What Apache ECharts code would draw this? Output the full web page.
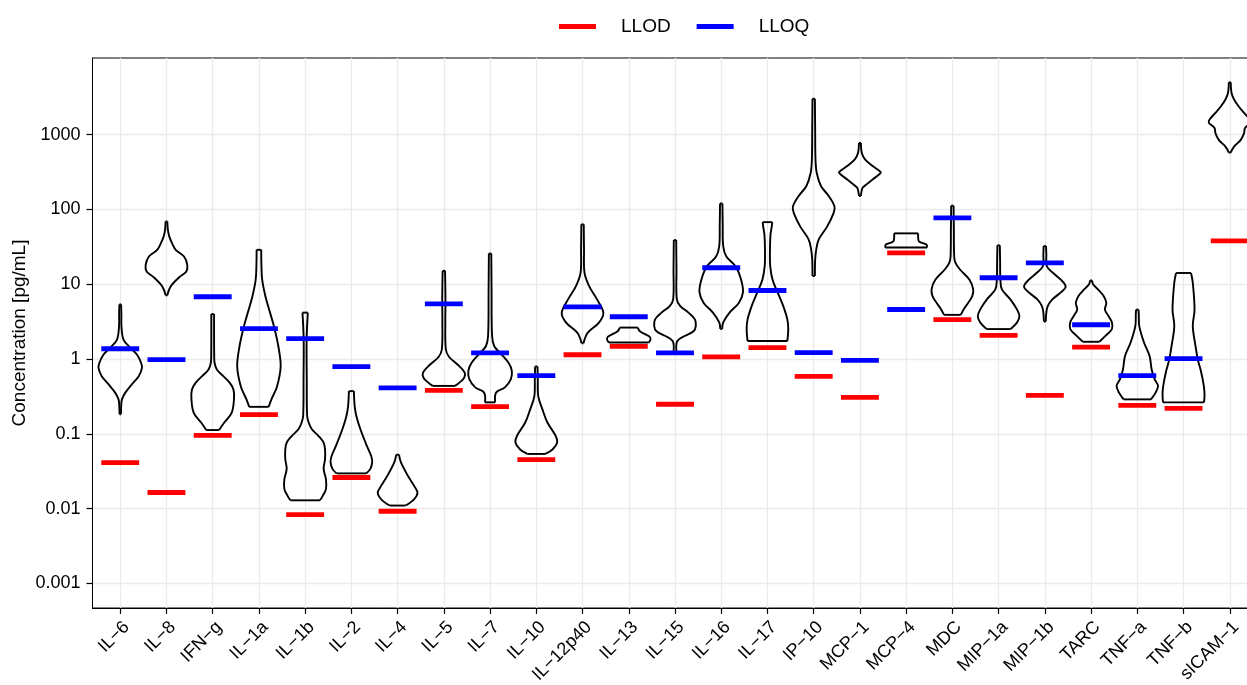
<!DOCTYPE html>
<html><head><meta charset="utf-8">
<script src="https://cdn.jsdelivr.net/npm/echarts@6/dist/echarts.min.js"></script>
<style>html,body{margin:0;padding:0;background:#fff}#c{width:1247px;height:685px}</style>
</head><body><div id="c"></div>
<script>
// Categories (analytes)
const categories = ['IL−6','IL−8','IFN−g','IL−1a','IL−1b','IL−2','IL−4','IL−5','IL−7','IL−10','IL−12p40','IL−13','IL−15','IL−16','IL−17','IP−10','MCP−1','MCP−4','MDC','MIP−1a','MIP−1b','TARC','TNF−a','TNF−b','sICAM−1'];
// Lower limits (pg/mL)
const llod = [0.041,0.0164,0.095,0.18,0.0083,0.026,0.0092,0.38,0.23,0.045,1.14,1.47,0.248,1.07,1.42,0.586,0.307,26.3,3.35,2.07,0.327,1.44,0.24,0.219,38];
const lloq = [1.37,0.98,6.8,2.54,1.87,0.79,0.41,5.47,1.21,0.60,4.99,3.67,1.21,16.6,8.24,1.22,0.96,4.59,76.9,12.2,19.3,2.87,0.598,1.01,null];
// Y-axis ticks
const yTickValues = [0.001,0.01,0.1,1,10,100,1000];
const yTickLabels = ['0.001','0.01','0.1','1','10','100','1000'];
// Violin profiles: [log10 concentration, half-width in category units], bottom to top
const vIL6 = [[-0.74,0.015],[-0.61,0.022],[-0.54,0.037],[-0.45,0.11],[-0.34,0.25],[-0.23,0.40],[-0.12,0.47],[-0.05,0.45],[0.06,0.36],[0.15,0.22],[0.26,0.07],[0.44,0.026],[0.60,0.024],[0.73,0.018]];
const vIL8 = [[0.85,0.015],[0.97,0.09],[1.09,0.27],[1.17,0.43],[1.26,0.45],[1.37,0.38],[1.46,0.20],[1.55,0.12],[1.64,0.06],[1.73,0.03],[1.84,0.018]];
const vIFNg = [[-0.95,0.14],[-0.85,0.25],[-0.72,0.41],[-0.54,0.46],[-0.41,0.45],[-0.32,0.37],[-0.23,0.23],[-0.14,0.09],[-0.05,0.04],[0.08,0.032],[0.30,0.03],[0.60,0.03]];
const vIL1a = [[-0.64,0.21],[-0.54,0.27],[-0.37,0.39],[-0.10,0.47],[0.17,0.42],[0.40,0.34],[0.60,0.25],[0.84,0.14],[1.06,0.07],[1.26,0.054],[1.46,0.05]];
const vIL1b = [[-1.89,0.32],[-1.83,0.38],[-1.74,0.45],[-1.61,0.45],[-1.47,0.40],[-1.34,0.43],[-1.21,0.43],[-1.12,0.40],[-1.03,0.29],[-0.94,0.145],[-0.85,0.076],[-0.76,0.043],[-0.27,0.035],[0.26,0.032],[0.62,0.058]];
const vIL2 = [[-1.53,0.32],[-1.47,0.41],[-1.38,0.45],[-1.30,0.43],[-1.17,0.34],[-0.94,0.195],[-0.77,0.11],[-0.63,0.071],[-0.43,0.054]];
const vIL4 = [[-1.96,0.17],[-1.88,0.35],[-1.79,0.43],[-1.70,0.36],[-1.56,0.22],[-1.38,0.07],[-1.28,0.03]];
const vIL5 = [[-0.36,0.24],[-0.32,0.33],[-0.25,0.44],[-0.18,0.45],[-0.07,0.29],[0.03,0.11],[0.13,0.043],[0.50,0.032],[0.80,0.035],[1.18,0.026]];
const vIL7 = [[-0.58,0.11],[-0.45,0.13],[-0.38,0.32],[-0.27,0.45],[-0.16,0.47],[-0.05,0.40],[0.08,0.22],[0.17,0.09],[0.31,0.043],[0.93,0.032],[1.41,0.026]];
const vIL10 = [[-1.27,0.195],[-1.21,0.35],[-1.12,0.45],[-1.03,0.42],[-0.85,0.24],[-0.67,0.13],[-0.50,0.043],[-0.27,0.032],[-0.10,0.026]];
const vIL12p40 = [[0.21,0.02],[0.26,0.043],[0.35,0.11],[0.49,0.36],[0.62,0.45],[0.80,0.31],[0.97,0.145],[1.15,0.043],[1.46,0.032],[1.80,0.026]];
const vIL13 = [[0.22,0.43],[0.26,0.47],[0.30,0.45],[0.33,0.36],[0.37,0.24],[0.42,0.195]];
const vIL15 = [[0.09,0.032],[0.24,0.05],[0.31,0.22],[0.37,0.40],[0.44,0.45],[0.53,0.43],[0.62,0.29],[0.71,0.11],[0.80,0.039],[1.20,0.032],[1.59,0.026]];
const vIL16 = [[0.40,0.02],[0.49,0.043],[0.62,0.18],[0.75,0.38],[0.89,0.47],[1.06,0.43],[1.24,0.31],[1.37,0.11],[1.51,0.043],[1.80,0.032],[2.08,0.026]];
const vIL17 = [[0.24,0.43],[0.40,0.45],[0.53,0.43],[0.71,0.34],[0.89,0.22],[1.06,0.11],[1.24,0.06],[1.46,0.054],[1.66,0.065],[1.76,0.09],[1.83,0.104]];
const vIP10 = [[1.11,0.026],[1.33,0.032],[1.46,0.054],[1.60,0.11],[1.77,0.29],[1.95,0.43],[2.04,0.45],[2.18,0.325],[2.31,0.16],[2.49,0.065],[2.67,0.039],[3.07,0.032],[3.48,0.026]];
const vMCP1 = [[2.18,0.02],[2.28,0.05],[2.31,0.093],[2.40,0.275],[2.47,0.42],[2.50,0.45],[2.58,0.275],[2.67,0.11],[2.75,0.043],[2.89,0.02]];
const vMCP4 = [[1.49,0.45],[1.53,0.44],[1.57,0.28],[1.62,0.26],[1.68,0.26]];
const vMDC = [[0.59,0.18],[0.66,0.24],[0.75,0.34],[0.84,0.43],[0.93,0.45],[1.06,0.37],[1.20,0.16],[1.29,0.065],[1.37,0.039],[1.73,0.032],[2.05,0.026]];
const vMIP1a = [[0.40,0.26],[0.49,0.40],[0.57,0.45],[0.66,0.40],[0.80,0.25],[0.93,0.071],[1.06,0.039],[1.33,0.032],[1.52,0.026]];
const vMIP1b = [[0.50,0.02],[0.62,0.032],[0.71,0.065],[0.80,0.167],[0.89,0.346],[0.97,0.45],[1.06,0.346],[1.15,0.18],[1.24,0.043],[1.40,0.032],[1.51,0.026]];
const vTARC = [[0.23,0.18],[0.31,0.31],[0.40,0.45],[0.49,0.45],[0.57,0.38],[0.66,0.30],[0.75,0.33],[0.84,0.275],[0.93,0.15],[1.00,0.043],[1.05,0.02]];
const vTNFa = [[-0.54,0.296],[-0.45,0.396],[-0.36,0.448],[-0.27,0.374],[-0.14,0.31],[0.04,0.266],[0.22,0.145],[0.44,0.043],[0.60,0.032],[0.66,0.026]];
const vTNFb = [[-0.58,0.444],[-0.47,0.454],[-0.36,0.439],[-0.18,0.383],[-0.01,0.31],[0.17,0.26],[0.44,0.2],[0.66,0.238],[1.02,0.2],[1.15,0.162]];
const vsICAM1 = [[2.76,0.02],[2.84,0.093],[2.93,0.238],[3.02,0.31],[3.09,0.33],[3.16,0.454],[3.20,0.44],[3.29,0.31],[3.38,0.19],[3.47,0.093],[3.56,0.037],[3.70,0.02]];

const violins = [vIL6,vIL8,vIFNg,vIL1a,vIL1b,vIL2,vIL4,vIL5,vIL7,vIL10,vIL12p40,vIL13,vIL15,vIL16,vIL17,vIP10,vMCP1,vMCP4,vMDC,vMIP1a,vMIP1b,vTARC,vTNFa,vTNFb,vsICAM1];

const xTickValues = categories.map((_, i) => i + 1);
const yLogTicks = yTickValues.map(v => Math.log10(v));

const chart = echarts.init(document.getElementById('c'), null, {renderer: 'canvas'});
const FONT = 'Liberation Sans, Arial, Helvetica, sans-serif';

function limitSeries(name, values, color) {
  return {
    name: name, type: 'custom', z: 5,
    itemStyle: {color: color},
    data: values.map((v, i) => v == null ? null : [i + 1, Math.log10(v)]).filter(d => d),
    renderItem: function (params, api) {
      const c = api.coord([api.value(0), api.value(1)]);
      const w = api.size([0.82, 0])[0];
      return {type: 'rect', shape: {x: c[0] - w / 2, y: c[1] - 2.4, width: w, height: 4.8}, style: {fill: color}};
    }
  };
}

const option = {
  animation: false,
  backgroundColor: '#fff',
  grid: {left: 92.5, top: 58, width: 1165, height: 550, show: true, borderColor: '#000', borderWidth: 1,
    backgroundColor: 'transparent', outerBoundsMode: 'none', containLabel: false},
  legend: {
    left: 559, top: 17, padding: 0, itemWidth: 37, itemHeight: 5, itemGap: 26,
    data: [{name: 'LLOD', icon: 'rect'}, {name: 'LLOQ', icon: 'rect'}],
    textStyle: {fontSize: 19, color: '#000', fontFamily: FONT, padding: [0, 0, 0, 20]}
  },
  xAxis: {
    type: 'value', min: 0.4, max: 25.6,
    axisLine: {show: true, onZero: false, lineStyle: {color: '#000', width: 1}},
    axisTick: {show: true, customValues: xTickValues, length: 6, lineStyle: {color: '#000', width: 1.2}},
    axisLabel: {customValues: xTickValues, rotate: 45, margin: 10, fontSize: 18, color: '#000', fontFamily: FONT,
      verticalAlign: 'top', formatter: v => categories[Math.round(v) - 1]},
    splitLine: {show: true, lineStyle: {color: '#EBEBEB', width: 1.3}}
  },
  yAxis: {
    type: 'value', min: -3.33, max: 4.025,
    name: 'Concentration [pg/mL]', nameLocation: 'middle', nameGap: 63, nameMoveOverlap: false,
    nameTextStyle: {fontSize: 19, color: '#000', fontFamily: FONT},
    axisLine: {show: true, lineStyle: {color: '#000', width: 1}},
    axisTick: {show: true, customValues: yLogTicks, length: 6, lineStyle: {color: '#000', width: 1.2}},
    axisLabel: {customValues: yLogTicks, margin: 12, fontSize: 18, color: '#000', fontFamily: FONT,
      formatter: v => { const k = yLogTicks.findIndex(t => Math.abs(t - v) < 1e-6); return k >= 0 ? yTickLabels[k] : ''; }},
    splitLine: {show: true, lineStyle: {color: '#EBEBEB', width: 1.3}}
  },
  series: [
    {
      name: 'violin', type: 'custom', z: 3, clip: true,
      data: categories.map((_, i) => [i + 1, i]),
      renderItem: function (params, api) {
        const i = params.dataIndex;
        const prof = violins[i];
        const x0 = i + 1;
        const leftPts = prof.map(p => api.coord([x0 - p[1], p[0]]));
        const rightPts = prof.map(p => api.coord([x0 + p[1], p[0]]));
        const st = {fill: 'none', stroke: '#000', lineWidth: 1.9};
        const b = prof.length - 1;
        return {type: 'group', children: [
          {type: 'polyline', shape: {points: leftPts, smooth: 0.35}, style: st},
          {type: 'polyline', shape: {points: rightPts, smooth: 0.35}, style: st},
          {type: 'line', shape: {x1: leftPts[0][0], y1: leftPts[0][1], x2: rightPts[0][0], y2: rightPts[0][1]}, style: st},
          {type: 'line', shape: {x1: leftPts[b][0], y1: leftPts[b][1], x2: rightPts[b][0], y2: rightPts[b][1]}, style: st}
        ]};
      }
    },
    limitSeries('LLOD', llod, '#FF0000'),
    limitSeries('LLOQ', lloq, '#0000FF')
  ]
};
chart.setOption(option);
</script>
</body></html>
